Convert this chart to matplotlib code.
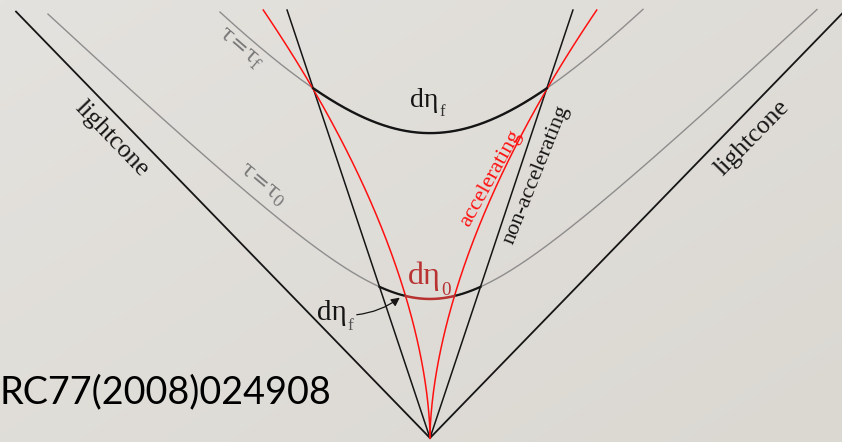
import numpy as np
import matplotlib
matplotlib.use("Agg")
import matplotlib.pyplot as plt
from matplotlib.patches import FancyArrowPatch

# ---- diagram data (x: space, t: time; lightcone is t = |x|) ----
# light cone reach on each side
lightcone_x = [-414, 412]
top_t = 415.5

# proper-time hyperbolas: apex time, curvature scale, slope factor, x-extent
hyper_names = ["tau0", "tauf"]
hyper_apex_t = [135.0, 296.0]
hyper_scale = [86.0, 164.6]
hyper_slope = [0.922, 1.091]
hyper_xmin = [-382, -210]
hyper_xmax = [387, 213]

# non-accelerating fluid cells: straight worldlines x = +/- v t
cell_velocity = 0.344

# accelerating fluid cells: pass through (x_ref, t_ref) with power-law growth
accel_x_ref = 117.5
accel_t_ref = 339.8
accel_power = 1.74

ref_label = "RC77(2008)024908"

# ---- figure ----
W, H, DPI = 842, 442, 100
fig = plt.figure(figsize=(W / DPI, H / DPI), dpi=DPI)
ax = fig.add_axes([0, 0, 1, 1])
xlim = (-430, 412)
ylim = (-4 / 1.03, 438 / 1.03)
ax.set_xlim(*xlim)
ax.set_ylim(*ylim)
ax.set_axis_off()

# soft paper-like background
gy, gx = np.mgrid[0:1:60j, 0:1:120j]
g = 0.55 * gx + 0.45 * gy
c0 = np.array([228, 226, 222]) / 255
c1 = np.array([219, 216, 210]) / 255
bg = c0[None, None, :] * (1 - g[..., None]) + c1[None, None, :] * g[..., None]
ax.imshow(bg, extent=[xlim[0], xlim[1], ylim[0], ylim[1]], origin="upper",
          aspect="auto", zorder=0, interpolation="bilinear")


def hyperbola(i, x):
    b = hyper_scale[i]
    k = hyper_slope[i]
    return hyper_apex_t[i] + np.sqrt(b ** 2 + (k * x) ** 2) - b


def accel_x(t):
    return accel_x_ref * (np.clip(t, 0, None) / accel_t_ref) ** accel_power


def crossing(i, curve_x_of_t):
    # positive-x crossing of hyperbola i with a worldline x(t)
    xs = np.linspace(0, hyper_xmax[i], 20001)
    ts = hyperbola(i, xs)
    f = curve_x_of_t(ts) - xs
    j = np.where(np.sign(f[:-1]) != np.sign(f[1:]))[0][0]
    return xs[j]


BLACK = "#151515"
GRAY = "#8d8d8d"
RED = "#ff1010"
DARKRED = "#b83232"

# light cone
ax.plot([0, lightcone_x[0]], [0, -lightcone_x[0]], color=BLACK, lw=1.3, zorder=3)
ax.plot([0, lightcone_x[1] + 10], [0, lightcone_x[1] + 10], color=BLACK, lw=1.3, zorder=3)

# hyperbolas
for i in range(2):
    xs = np.linspace(hyper_xmin[i], hyper_xmax[i], 600)
    ax.plot(xs, hyperbola(i, xs), color=GRAY, lw=1.0, zorder=2)

# straight and accelerating worldlines
ts = np.linspace(0, top_t, 200)
for s in (-1, 1):
    ax.plot(s * cell_velocity * ts, ts, color=BLACK, lw=1.1, zorder=3)
    ax.plot(s * accel_x(ts), ts, color=RED, lw=1.1, zorder=4)

# highlighted cell sizes
xf = crossing(1, lambda t: cell_velocity * t)
xs = np.linspace(-xf, xf, 300)
ax.plot(xs, hyperbola(1, xs), color=BLACK, lw=1.7, zorder=5)

x0b = crossing(0, lambda t: cell_velocity * t)
x0r = crossing(0, accel_x)
for a, b in ((-x0b, -x0r), (x0r, x0b)):
    xs = np.linspace(a, b, 100)
    ax.plot(xs, hyperbola(0, xs), color=BLACK, lw=1.6, zorder=5)
xs = np.linspace(-x0r, x0r, 100)
ax.plot(xs, hyperbola(0, xs), color=DARKRED, lw=1.8, zorder=5)

# labels
SERIF = ["Liberation Serif", "DejaVu Serif"]
TAUF = ["DejaVu Serif"]
ax.text(-318, 290.3, "lightcone", rotation=-46, fontsize=18.5, family=SERIF,
        color=BLACK, ha="center", va="center", rotation_mode="anchor")
ax.text(322, 291.3, "lightcone", rotation=45.6, fontsize=18.5, family=SERIF,
        color=BLACK, ha="center", va="center", rotation_mode="anchor")
ax.text(-190, 378, r"$\mathregular{τ\!=\!τ_{f}}$", rotation=-41, fontsize=16,
        family=TAUF, color="#7a7a7a", ha="center", va="center",
        rotation_mode="anchor")
ax.text(-168, 246, r"$\mathregular{τ\!=\!τ_{0}}$", rotation=-40, fontsize=16,
        family=TAUF, color="#7a7a7a", ha="center", va="center",
        rotation_mode="anchor")


def d_eta(x, t, sub, size, color, sub_color):
    main = ax.text(x, t, "dη", fontsize=size, family=SERIF, color=color,
                   ha="left", va="center", zorder=7)
    ax.annotate(sub, xy=(1.0, 0.02), xycoords=main, xytext=(0.5, 0),
                textcoords="offset points", fontsize=size * 0.6,
                family=SERIF, color=sub_color, ha="left", va="center",
                zorder=7)


d_eta(-20, 328, "f", 20, BLACK, "#333333")
d_eta(-22, 157, "0", 23, DARKRED, DARKRED)
d_eta(-113, 121, "f", 21, BLACK, "#555555")

ax.text(61, 252, "accelerating", rotation=61, fontsize=16, family=SERIF,
        color=RED, ha="center", va="center", rotation_mode="anchor")
ax.text(106, 256, "non-accelerating", rotation=68, fontsize=16, family=SERIF,
        color=BLACK, ha="center", va="center", rotation_mode="anchor")

arrow = FancyArrowPatch((-76, 119.4), (-28, 137.9),
                        connectionstyle="arc3,rad=0.15",
                        arrowstyle="-|>,head_length=5,head_width=2.5",
                        color=BLACK, lw=0.9, zorder=6)
ax.add_patch(arrow)

ax.text(-431, 34, ref_label, fontsize=27.2, family=["Lato", "DejaVu Sans"],
        color="black", ha="left", va="baseline")

fig.savefig("out.png", dpi=DPI)
